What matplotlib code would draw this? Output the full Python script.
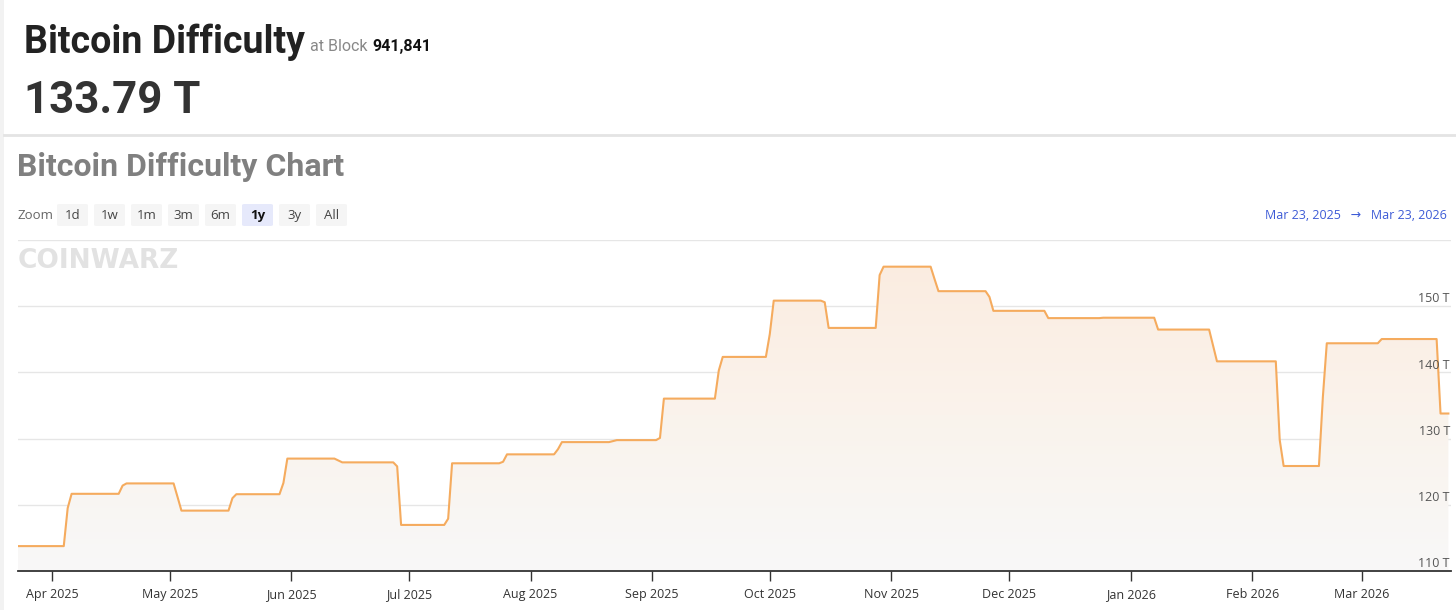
import numpy as np
import matplotlib
matplotlib.use('Agg')
import matplotlib.pyplot as plt
import matplotlib.dates as mdates
import matplotlib.transforms as mtransforms
from matplotlib.patches import FancyBboxPatch, Rectangle
from matplotlib.colors import LinearSegmentedColormap

W, H = 1456, 610

# difficulty (T) at the chart's vertices
dates = ["2025-03-23", "2025-04-04", "2025-04-05", "2025-04-06", "2025-04-18", "2025-04-19",
         "2025-04-20", "2025-05-02", "2025-05-03", "2025-05-04", "2025-05-16", "2025-05-17",
         "2025-05-18", "2025-05-29", "2025-05-30", "2025-05-31", "2025-06-12", "2025-06-14",
         "2025-06-27", "2025-06-28", "2025-06-29", "2025-07-10", "2025-07-11", "2025-07-12",
         "2025-07-24", "2025-07-25", "2025-07-26", "2025-08-07", "2025-08-08", "2025-08-09",
         "2025-08-21", "2025-08-23", "2025-09-02", "2025-09-03", "2025-09-04", "2025-09-17",
         "2025-09-18", "2025-09-19", "2025-09-30", "2025-10-01", "2025-10-02", "2025-10-14",
         "2025-10-15", "2025-10-16", "2025-10-28", "2025-10-29", "2025-10-30", "2025-11-11",
         "2025-11-12", "2025-11-13", "2025-11-25", "2025-11-26", "2025-11-27", "2025-12-10",
         "2025-12-11", "2025-12-24", "2025-12-25", "2026-01-07", "2026-01-08", "2026-01-21",
         "2026-01-23", "2026-02-07", "2026-02-08", "2026-02-09", "2026-02-18", "2026-02-19",
         "2026-02-20", "2026-03-05", "2026-03-06", "2026-03-20", "2026-03-21", "2026-03-23"]
difficulty = [113.76, 113.76, 119.5, 121.66, 121.66, 122.9,
              123.23, 123.23, 121.2, 119.12, 119.12, 121.0,
              121.6, 121.6, 123.3, 126.98, 126.98, 126.41,
              126.41, 125.8, 116.96, 116.96, 117.9, 126.27,
              126.27, 126.5, 127.62, 127.62, 128.4, 129.47,
              129.47, 129.77, 129.77, 130.1, 136.04, 136.04,
              140.3, 142.34, 142.34, 145.8, 150.84, 150.84,
              150.6, 146.72, 146.72, 154.7, 155.97, 155.97,
              154.1, 152.27, 152.27, 151.4, 149.3, 149.3,
              148.2, 148.2, 148.26, 148.26, 146.47, 146.47,
              141.67, 141.67, 129.8, 125.86, 125.86, 136.3,
              144.4, 144.4, 145.04, 145.04, 133.79, 133.79]
y_ticks = [110, 120, 130, 140, 150, 160]
y_labels = ["110 T", "120 T", "130 T", "140 T", "150 T"]
zoom_buttons = ["1d", "1w", "1m", "3m", "6m", "1y", "3y", "All"]
selected = "1y"

def fx(x):
    return x / W

def fy(y):
    return 1 - y / H

fig = plt.figure(figsize=(W / 100, H / 100), dpi=100)
fig.patch.set_facecolor('white')

# page frame bits
fig.patches.append(Rectangle((0, 0), fx(4), 1, transform=fig.transFigure,
                             facecolor='#f2f2f2', edgecolor='none'))
fig.lines.append(plt.Line2D([fx(4), 1], [fy(134.5), fy(134.5)], transform=fig.transFigure,
                            color='#e4e4e4', lw=2))

# header
fig.text(fx(24), fy(53), "Bitcoin Difficulty", fontsize=27, fontweight='bold',
         family='Roboto', color='#222222', va='baseline')
fig.text(fx(310), fy(51), "at Block", fontsize=11.5, family='Roboto',
         color='#888888', va='baseline')
fig.text(fx(372), fy(51), "941,841", fontsize=11.5, family='Roboto', fontweight='bold',
         color='#111111', va='baseline')
fig.text(fx(24), fy(113), "133.79 T", fontsize=31.5, fontweight='bold',
         family='Roboto', color='#333333', va='baseline')
fig.text(fx(17), fy(176), "Bitcoin Difficulty Chart", fontsize=23, fontweight='bold',
         family='Roboto', color='#808080', va='baseline')

# zoom row
fig.text(fx(17), fy(215), "Zoom", fontsize=9.5, family='Open Sans', color='#666666', va='center')
bx = 57
for b in zoom_buttons:
    w = 31
    fc = '#e6e9fb' if b == selected else '#f5f5f5'
    fig.patches.append(FancyBboxPatch((fx(bx), fy(226)), fx(w), 22 / H,
                                      boxstyle="round,pad=0,rounding_size=0.002",
                                      transform=fig.transFigure, facecolor=fc, edgecolor='none'))
    fig.text(fx(bx + w / 2), fy(215), b, fontsize=9.5, family='Open Sans',
             fontweight='bold' if b == selected else 'normal',
             color='#111111' if b == selected else '#444444', ha='center', va='center')
    bx += 37

fig.text(fx(1447), fy(215), "Mar 23, 2025   \u2192   Mar 23, 2026", fontsize=9,
         family=['Open Sans', 'DejaVu Sans'], color='#3d5bd6', ha='right', va='center')

# chart
left, right, top, bottom = 18, 1451, 240, 571
ax = fig.add_axes([fx(left), fy(bottom), fx(right - left), (bottom - top) / H])
ax.set_facecolor('white')

x = np.array(dates, dtype='datetime64[D]').astype('datetime64[h]')
xn = mdates.date2num(x)
yv = np.array(difficulty)

xmin = mdates.date2num(np.datetime64('2025-03-23T08'))
xmax = mdates.date2num(np.datetime64('2026-03-23T16'))
ax.set_xlim(xmin, xmax)
ax.set_ylim(110, 160)

# gradient fill under the line
cmap = LinearSegmentedColormap.from_list('g', ['#f8f8f8', '#faf3ec', '#fbece0'])
grad = np.linspace(0, 1, 256).reshape(-1, 1)
img = ax.imshow(grad, cmap=cmap, aspect='auto', origin='lower',
                extent=[xmin, xmax, 110, 157], zorder=1)
poly = ax.fill_between(xn, yv, 110, facecolor='none', edgecolor='none')
clip = poly.get_paths()[0]
img.set_clip_path(clip, transform=ax.transData)

ax.plot(xn, yv, color='#f5ab5e', lw=1.5, zorder=3, solid_joinstyle='round')

ax.set_yticks(y_ticks)
ax.set_yticklabels([])
ax.tick_params(axis='y', length=0)
ax.grid(axis='y', color='#e6e6e6', lw=1)
ax.set_axisbelow(True)

trans = mtransforms.blended_transform_factory(ax.transAxes, ax.transData)
for v, lab in zip(y_ticks, y_labels):
    ax.text(0.9993, v + 0.12, lab, transform=trans, ha='right', va='bottom',
            fontsize=9, family='Open Sans', color='#555555', zorder=4)

ax.xaxis.set_major_locator(mdates.MonthLocator())
ax.xaxis.set_major_formatter(mdates.DateFormatter('%b %Y'))
ax.tick_params(axis='x', length=7.5, width=1, color='#333333', labelsize=9,
               labelcolor='#333333', pad=5)
for lab in ax.get_xticklabels():
    lab.set_family('Open Sans')

for s in ['top', 'right', 'left']:
    ax.spines[s].set_visible(False)
ax.spines['bottom'].set_color('#333333')
ax.spines['bottom'].set_linewidth(1.3)
ax.spines['bottom'].set_zorder(5)

# watermark
fig.text(fx(18), fy(268), "COINWARZ", fontsize=19, fontweight='heavy', family='DejaVu Sans',
         color='#e2e2e2', va='baseline')

fig.savefig('out.png', dpi=100, facecolor='white')
